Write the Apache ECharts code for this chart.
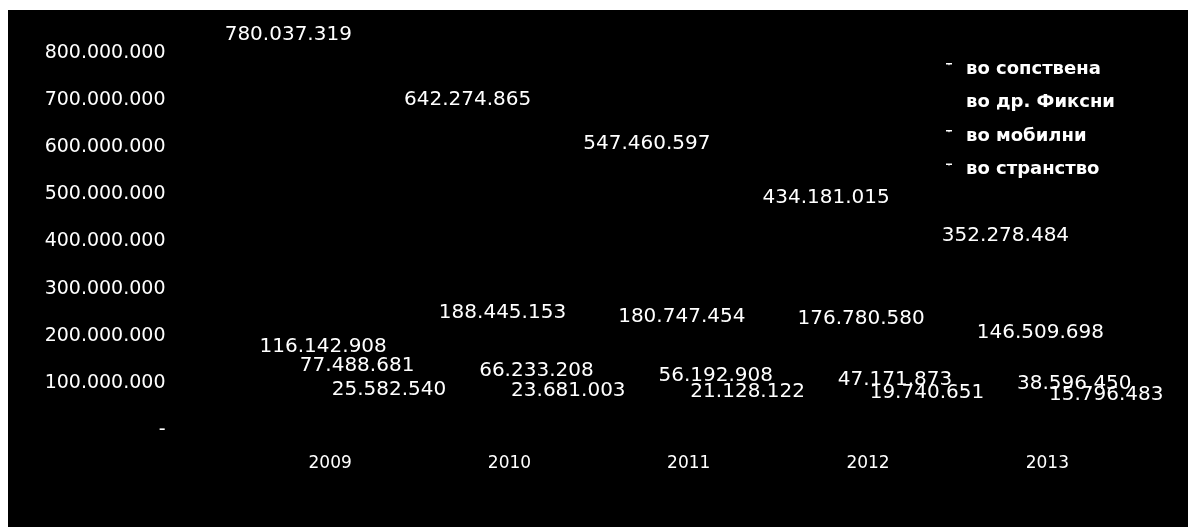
<!DOCTYPE html>
<html>
<head>
<meta charset="utf-8">
<script src="https://cdn.jsdelivr.net/npm/echarts@6/dist/echarts.min.js"></script>
<style>
  html, body { margin: 0; padding: 0; background: #ffffff; width: 1188px; height: 527px; overflow: hidden; }
  #chart { position: absolute; left: 8px; top: 10px; width: 1180px; height: 517px; background: #000000; }
</style>
</head>
<body>
<div id="chart"></div>
<script>
// Годишни минути по тип на повик
const categories = ['2009', '2010', '2011', '2012', '2013'];
const seriesNames = ['во сопствена', 'во др. Фиксни', 'во мобилни', 'во странство'];
const sopstvena = [780037319, 642274865, 547460597, 434181015, 352278484];
const drFiksni = [116142908, 188445153, 180747454, 176780580, 146509698];
const mobilni = [77488681, 66233208, 56192908, 47171873, 38596450];
const stranstvo = [25582540, 23681003, 21128122, 19740651, 15796483];
const axisMax = 800000000;
const axisStep = 100000000;

const FONT = '"DejaVu Sans", sans-serif';

// Legend key: a small light notch on the top edge of a dark swatch.
// The zero-area segment at the bottom only sets the icon's box height.
const notchIcon = 'path://M0,0L6,0L6,1.6L3.6,1.6L3,2.8L2.4,1.6L0,1.6Z M0,12L6,12L0,12Z';

function dots(v) {
  return String(Math.round(v)).replace(/\B(?=(\d{3})+(?!\d))/g, '.');
}

function barSeries(name, data, dx) {
  return {
    name: name,
    type: 'bar',
    data: data,
    barWidth: 28,
    barGap: '14%',
    itemStyle: { color: '#000000' },
    label: {
      show: true,
      position: 'top',
      distance: 18,
      offset: [dx, 0],
      color: '#ffffff',
      fontFamily: FONT,
      fontSize: 20,
      formatter: p => dots(p.value)
    }
  };
}

function legendItem(name, withNotch) {
  return withNotch
    ? { name: name, icon: notchIcon, itemStyle: { color: '#ffffff' } }
    : { name: name, icon: 'rect', itemStyle: { color: '#000000' } };
}

const chart = echarts.init(document.getElementById('chart'), null, { renderer: 'canvas' });
chart.setOption({
  backgroundColor: '#000000',
  animation: false,
  grid: { left: 232.5, right: 51, top: 43, bottom: 97, containLabel: false },
  legend: {
    orient: 'vertical',
    left: 933,
    top: 44,
    itemWidth: 6,
    itemHeight: 12,
    itemGap: 13.5,
    data: [
      legendItem(seriesNames[0], true),
      legendItem(seriesNames[1], false),
      legendItem(seriesNames[2], true),
      legendItem(seriesNames[3], true)
    ],
    textStyle: { color: '#ffffff', fontFamily: FONT, fontSize: 18, fontWeight: 'bold', lineHeight: 20, padding: [0, 0, 0, 9] }
  },
  xAxis: {
    type: 'category',
    data: categories,
    axisLine: { show: false },
    axisTick: { show: false },
    axisLabel: { color: '#ffffff', fontFamily: FONT, fontSize: 17, margin: 25 }
  },
  yAxis: {
    type: 'value',
    min: 0,
    max: axisMax,
    interval: axisStep,
    splitLine: { show: false },
    axisLine: { show: false },
    axisTick: { show: false },
    axisLabel: {
      color: '#ffffff',
      fontFamily: FONT,
      fontSize: 19,
      margin: 75,
      formatter: v => v === 0 ? '-' : dots(v)
    }
  },
  series: [
    barSeries(seriesNames[0], sopstvena, 6),
    barSeries(seriesNames[1], drFiksni, 9),
    barSeries(seriesNames[2], mobilni, 11),
    barSeries(seriesNames[3], stranstvo, 11)
  ]
});
</script>
</body>
</html>
